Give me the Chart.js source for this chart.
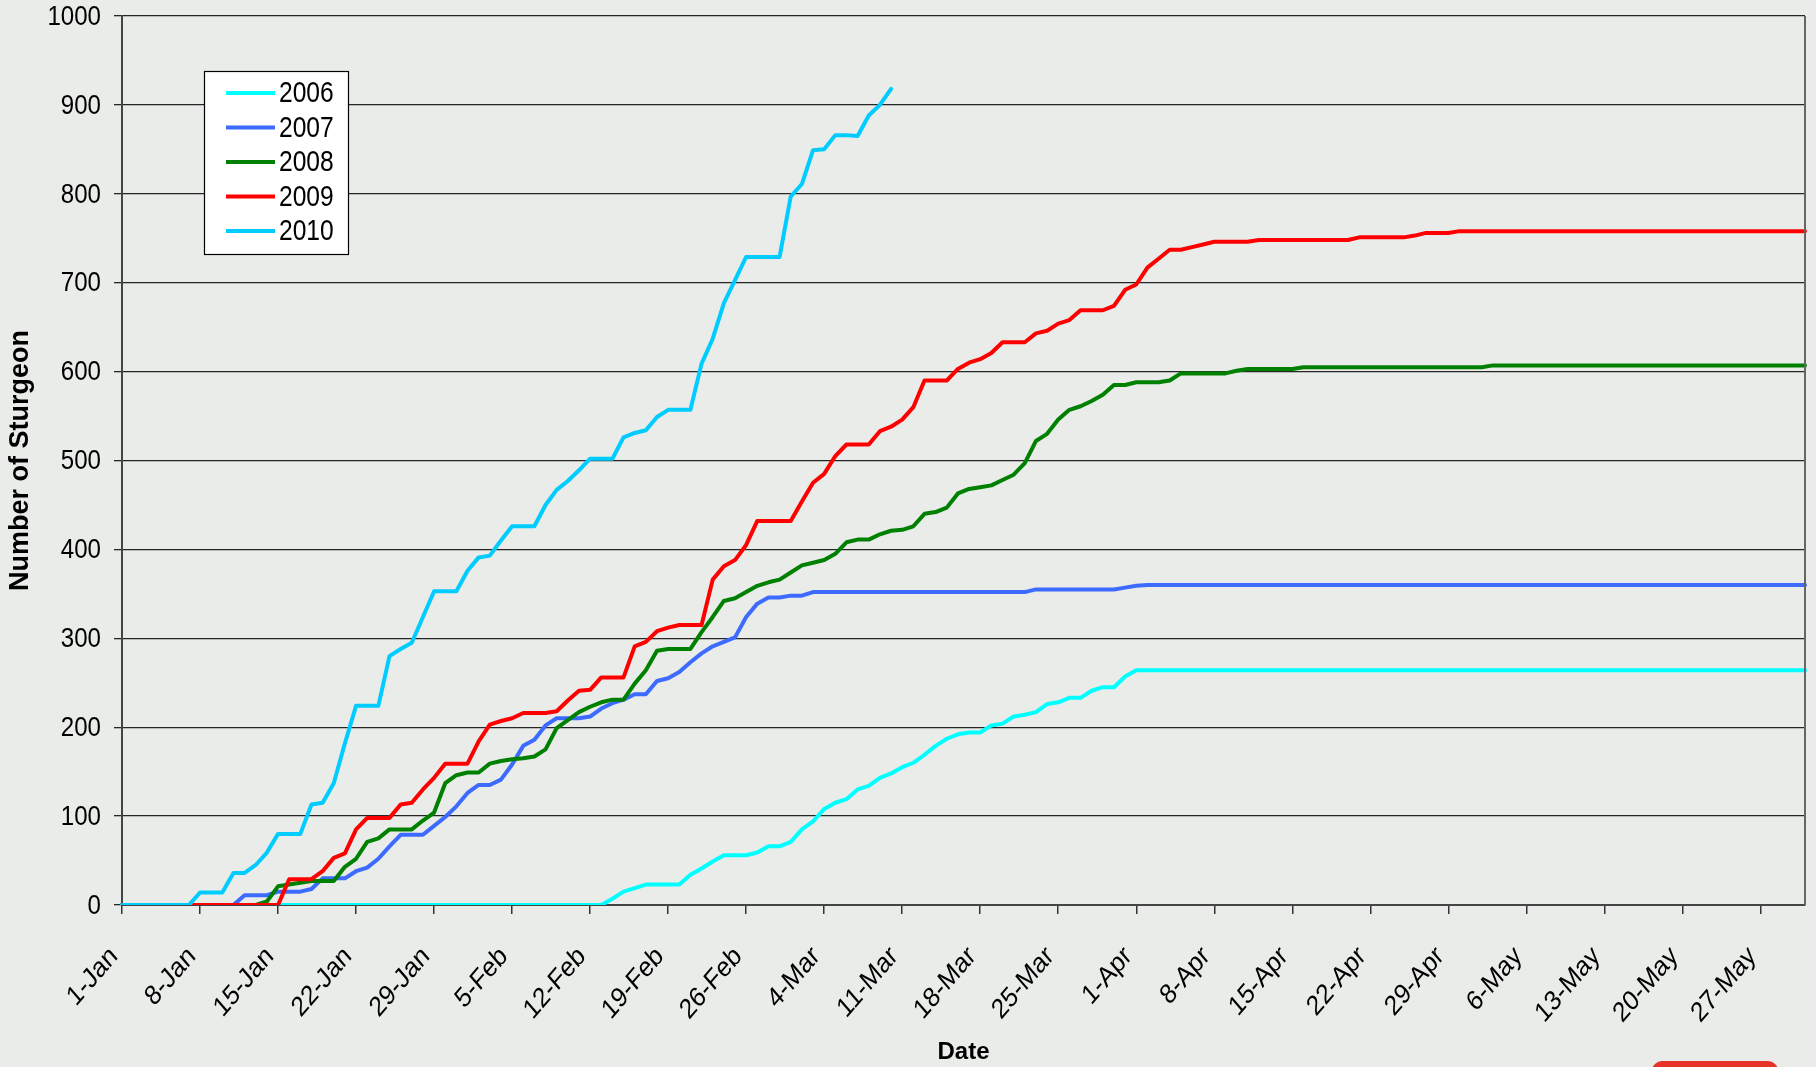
<!DOCTYPE html>
<html>
<head>
<meta charset="utf-8">
<script src="https://cdn.jsdelivr.net/npm/chart.js@4.4.0/dist/chart.umd.min.js"></script>
<style>
  html, body { margin: 0; padding: 0; background: #e9ece9; }
  canvas { display: block; }
</style>
</head>
<body>
<canvas id="myChart" width="1816" height="1067"></canvas>
<script>
// day-by-day categories, 1-Jan to 31-May (leap-year calendar, as on the axis)
var monthNames = ['Jan', 'Feb', 'Mar', 'Apr', 'May'];
var monthDays = [31, 29, 31, 30, 31];
var dayLabels = [];
monthNames.forEach(function (m, k) {
    for (var d = 1; d <= monthDays[k]; d++) dayLabels.push(d + '-' + m);
});
var tickEvery = 7;

var yearLabels = ['2006', '2007', '2008', '2009', '2010'];
var yearColors = ['#00FFFF', '#3d6bff', '#008000', '#FF0000', '#00CCFF'];

var s2006 = [
    0, 0, 0, 0, 0, 0, 0, 0, 0, 0,
    0, 0, 0, 0, 0, 0, 0, 0, 0, 0,
    0, 0, 0, 0, 0, 0, 0, 0, 0, 0,
    0, 0, 0, 0, 0, 0, 0, 0, 0, 0,
    0, 0, 0, 0, 7, 15, 19, 23, 23, 23,
    23, 34, 41, 49, 56, 56, 56, 59, 66, 66,
    71, 85, 94, 108, 115, 119, 130, 134, 143, 148,
    155, 160, 169, 179, 187, 192, 194, 194, 202, 204,
    212, 214, 217, 226, 228, 233, 233, 241, 245, 245,
    257, 264, 264, 264, 264, 264, 264, 264, 264, 264,
    264, 264, 264, 264, 264, 264, 264, 264, 264, 264,
    264, 264, 264, 264, 264, 264, 264, 264, 264, 264,
    264, 264, 264, 264, 264, 264, 264, 264, 264, 264,
    264, 264, 264, 264, 264, 264, 264, 264, 264, 264,
    264, 264, 264, 264, 264, 264, 264, 264, 264, 264,
    264, 264
];
var s2007 = [
    0, 0, 0, 0, 0, 0, 0, 0, 0, 0,
    0, 11, 11, 11, 15, 15, 15, 18, 30, 30,
    30, 38, 42, 52, 66, 79, 79, 79, 89, 99,
    111, 126, 135, 135, 141, 158, 179, 186, 202, 210,
    210, 210, 212, 221, 227, 231, 237, 237, 252, 255,
    262, 273, 283, 291, 296, 301, 324, 339, 346, 346,
    348, 348, 352, 352, 352, 352, 352, 352, 352, 352,
    352, 352, 352, 352, 352, 352, 352, 352, 352, 352,
    352, 352, 355, 355, 355, 355, 355, 355, 355, 355,
    357, 359, 360, 360, 360, 360, 360, 360, 360, 360,
    360, 360, 360, 360, 360, 360, 360, 360, 360, 360,
    360, 360, 360, 360, 360, 360, 360, 360, 360, 360,
    360, 360, 360, 360, 360, 360, 360, 360, 360, 360,
    360, 360, 360, 360, 360, 360, 360, 360, 360, 360,
    360, 360, 360, 360, 360, 360, 360, 360, 360, 360,
    360, 360
];
var s2008 = [
    0, 0, 0, 0, 0, 0, 0, 0, 0, 0,
    0, 0, 0, 4, 21, 23, 25, 27, 27, 27,
    43, 52, 71, 75, 85, 85, 85, 95, 104, 137,
    146, 149, 149, 159, 162, 164, 165, 167, 175, 199,
    208, 217, 223, 228, 231, 231, 249, 264, 286, 288,
    288, 288, 307, 324, 342, 345, 352, 359, 363, 366,
    374, 382, 385, 388, 395, 408, 411, 411, 417, 421,
    422, 426, 440, 442, 447, 463, 468, 470, 472, 478,
    484, 497, 522, 530, 546, 557, 561, 567, 574, 585,
    585, 588, 588, 588, 590, 598, 598, 598, 598, 598,
    601, 603, 603, 603, 603, 603, 605, 605, 605, 605,
    605, 605, 605, 605, 605, 605, 605, 605, 605, 605,
    605, 605, 605, 607, 607, 607, 607, 607, 607, 607,
    607, 607, 607, 607, 607, 607, 607, 607, 607, 607,
    607, 607, 607, 607, 607, 607, 607, 607, 607, 607,
    607, 607
];
var s2009 = [
    0, 0, 0, 0, 0, 0, 0, 0, 0, 0,
    0, 0, 0, 0, 0, 29, 29, 29, 38, 53,
    58, 85, 98, 98, 98, 113, 115, 130, 143, 159,
    159, 159, 184, 203, 207, 210, 216, 216, 216, 218,
    230, 241, 242, 256, 256, 256, 291, 296, 308, 312,
    315, 315, 315, 366, 381, 388, 405, 432, 432, 432,
    432, 454, 475, 485, 505, 518, 518, 518, 533, 538,
    546, 560, 590, 590, 590, 603, 610, 614, 621, 633,
    633, 633, 643, 646, 654, 658, 669, 669, 669, 674,
    692, 698, 717, 727, 737, 737, 740, 743, 746, 746,
    746, 746, 748, 748, 748, 748, 748, 748, 748, 748,
    748, 751, 751, 751, 751, 751, 753, 756, 756, 756,
    758, 758, 758, 758, 758, 758, 758, 758, 758, 758,
    758, 758, 758, 758, 758, 758, 758, 758, 758, 758,
    758, 758, 758, 758, 758, 758, 758, 758, 758, 758,
    758, 758
];
var s2010 = [
    0, 0, 0, 0, 0, 0, 0, 14, 14, 14,
    36, 36, 45, 59, 80, 80, 80, 113, 115, 137,
    182, 224, 224, 224, 280, 288, 295, 324, 353, 353,
    353, 376, 391, 393, 410, 426, 426, 426, 450, 467,
    477, 489, 502, 502, 502, 526, 531, 534, 549, 557,
    557, 557, 609, 637, 677, 703, 729, 729, 729, 729,
    797, 811, 849, 850, 866, 866, 865, 888, 900, 918
];
var seriesValues = [s2006, s2007, s2008, s2009, s2010];

var regular = "'Liberation Sans', Arial, sans-serif";
// the source picture is squeezed sideways, so its text is narrow
var squeeze = 0.86;

// page background, right border of the plot, red tab
var backdrop = {
    id: 'backdrop',
    beforeDraw: function (chart) {
        var c = chart.ctx;
        c.save();
        c.fillStyle = '#e9ece9';
        c.fillRect(0, 0, chart.width, chart.height);
        c.restore();
    },
    afterDraw: function (chart) {
        var c = chart.ctx, a = chart.chartArea;
        c.save();
        c.strokeStyle = '#666';
        c.lineWidth = 2;
        c.beginPath();
        c.moveTo(a.right, a.top);
        c.lineTo(a.right, a.bottom);
        c.stroke();
        c.fillStyle = '#e8332b';
        c.beginPath();
        c.roundRect(1652, 1061, 126, 24, 10);
        c.fill();
        c.restore();
    }
};

// tick labels drawn narrow, at the scales' own tick positions
var squeezedTicks = {
    id: 'squeezedTicks',
    afterDraw: function (chart) {
        var c = chart.ctx, xs = chart.scales.x, ys = chart.scales.y;
        c.save();
        c.fillStyle = '#000';
        c.font = '28px ' + regular;
        c.textAlign = 'right';
        c.textBaseline = 'middle';
        ys.ticks.forEach(function (t) {
            var y = ys.getPixelForValue(t.value);
            c.save();
            c.translate(ys.left + 101, y + 1);
            c.scale(squeeze, 1);
            c.fillText(String(t.value), 0, 0);
            c.restore();
        });
        dayLabels.forEach(function (lab, i) {
            if (i % tickEvery !== 0) return;
            var x = xs.getPixelForValue(i);
            c.save();
            c.translate(x - 8, xs.top + 47);
            c.scale(squeeze, 1);
            c.rotate(-Math.PI / 4);
            c.fillText(lab, 0, 0);
            c.restore();
        });
        c.restore();
    }
};

// boxed legend inside the plot, top left
var boxLegend = {
    id: 'boxLegend',
    afterDraw: function (chart) {
        var c = chart.ctx;
        var x0 = 204, y0 = 71, w = 144, h = 183;
        c.save();
        c.fillStyle = '#ffffff';
        c.fillRect(x0, y0, w, h);
        c.strokeStyle = '#000';
        c.lineWidth = 1.2;
        c.strokeRect(x0 + 0.5, y0 + 0.5, w, h);
        c.font = '30px ' + regular;
        c.textBaseline = 'middle';
        c.fillStyle = '#000';
        chart.data.datasets.forEach(function (ds, i) {
            var y = y0 + 22 + i * 34.5;
            c.strokeStyle = ds.borderColor;
            c.lineWidth = 4;
            c.beginPath();
            c.moveTo(226, y);
            c.lineTo(275, y);
            c.stroke();
            c.save();
            c.translate(279, y + 1);
            c.scale(0.82, 1);
            c.fillText(ds.label, 0, 0);
            c.restore();
        });
        c.restore();
    }
};

var ctx = document.getElementById('myChart').getContext('2d');
var myChart = new Chart(ctx, {
    type: 'line',
    data: {
        labels: dayLabels,
        datasets: yearLabels.map(function (yr, i) {
            return {
                label: yr,
                data: seriesValues[i],
                borderColor: yearColors[i],
                backgroundColor: yearColors[i],
                borderWidth: 4,
                pointRadius: 0,
                tension: 0,
                fill: false,
                borderJoinStyle: 'round',
                borderCapStyle: 'round',
                order: yearLabels.length - i
            };
        })
    },
    options: {
        responsive: false,
        animation: false,
        devicePixelRatio: 1,
        layout: {
            padding: { top: 16, right: 11, left: 0, bottom: 0 }
        },
        plugins: {
            legend: { display: false },
            tooltip: { enabled: false }
        },
        scales: {
            x: {
                offset: false,
                grid: {
                    drawOnChartArea: false,
                    drawTicks: true,
                    tickLength: 9,
                    lineWidth: 1.5,
                    color: function (c) {
                        return c.index % tickEvery === 0 ? '#333' : 'rgba(0,0,0,0)';
                    }
                },
                border: { display: true, color: '#444', width: 2 },
                ticks: { display: false, autoSkip: false },
                title: {
                    display: true,
                    text: 'Date',
                    color: '#000',
                    font: { family: regular, size: 24, weight: 'bold' },
                    padding: { top: 0, bottom: 0 }
                },
                afterFit: function (s) { s.height = 162; }
            },
            y: {
                min: 0,
                max: 1000,
                grid: {
                    color: '#262626',
                    lineWidth: 1.3,
                    tickLength: 8
                },
                border: { display: true, color: '#444', width: 2 },
                ticks: { display: false, stepSize: 100 },
                title: {
                    display: true,
                    text: 'Number of Sturgeon',
                    color: '#000',
                    font: { family: regular, size: 27, weight: 'bold' },
                    padding: { top: 4, bottom: 0 }
                },
                afterFit: function (s) { s.width = 122; }
            }
        }
    },
    plugins: [backdrop, squeezedTicks, boxLegend]
});
</script>
</body>
</html>
